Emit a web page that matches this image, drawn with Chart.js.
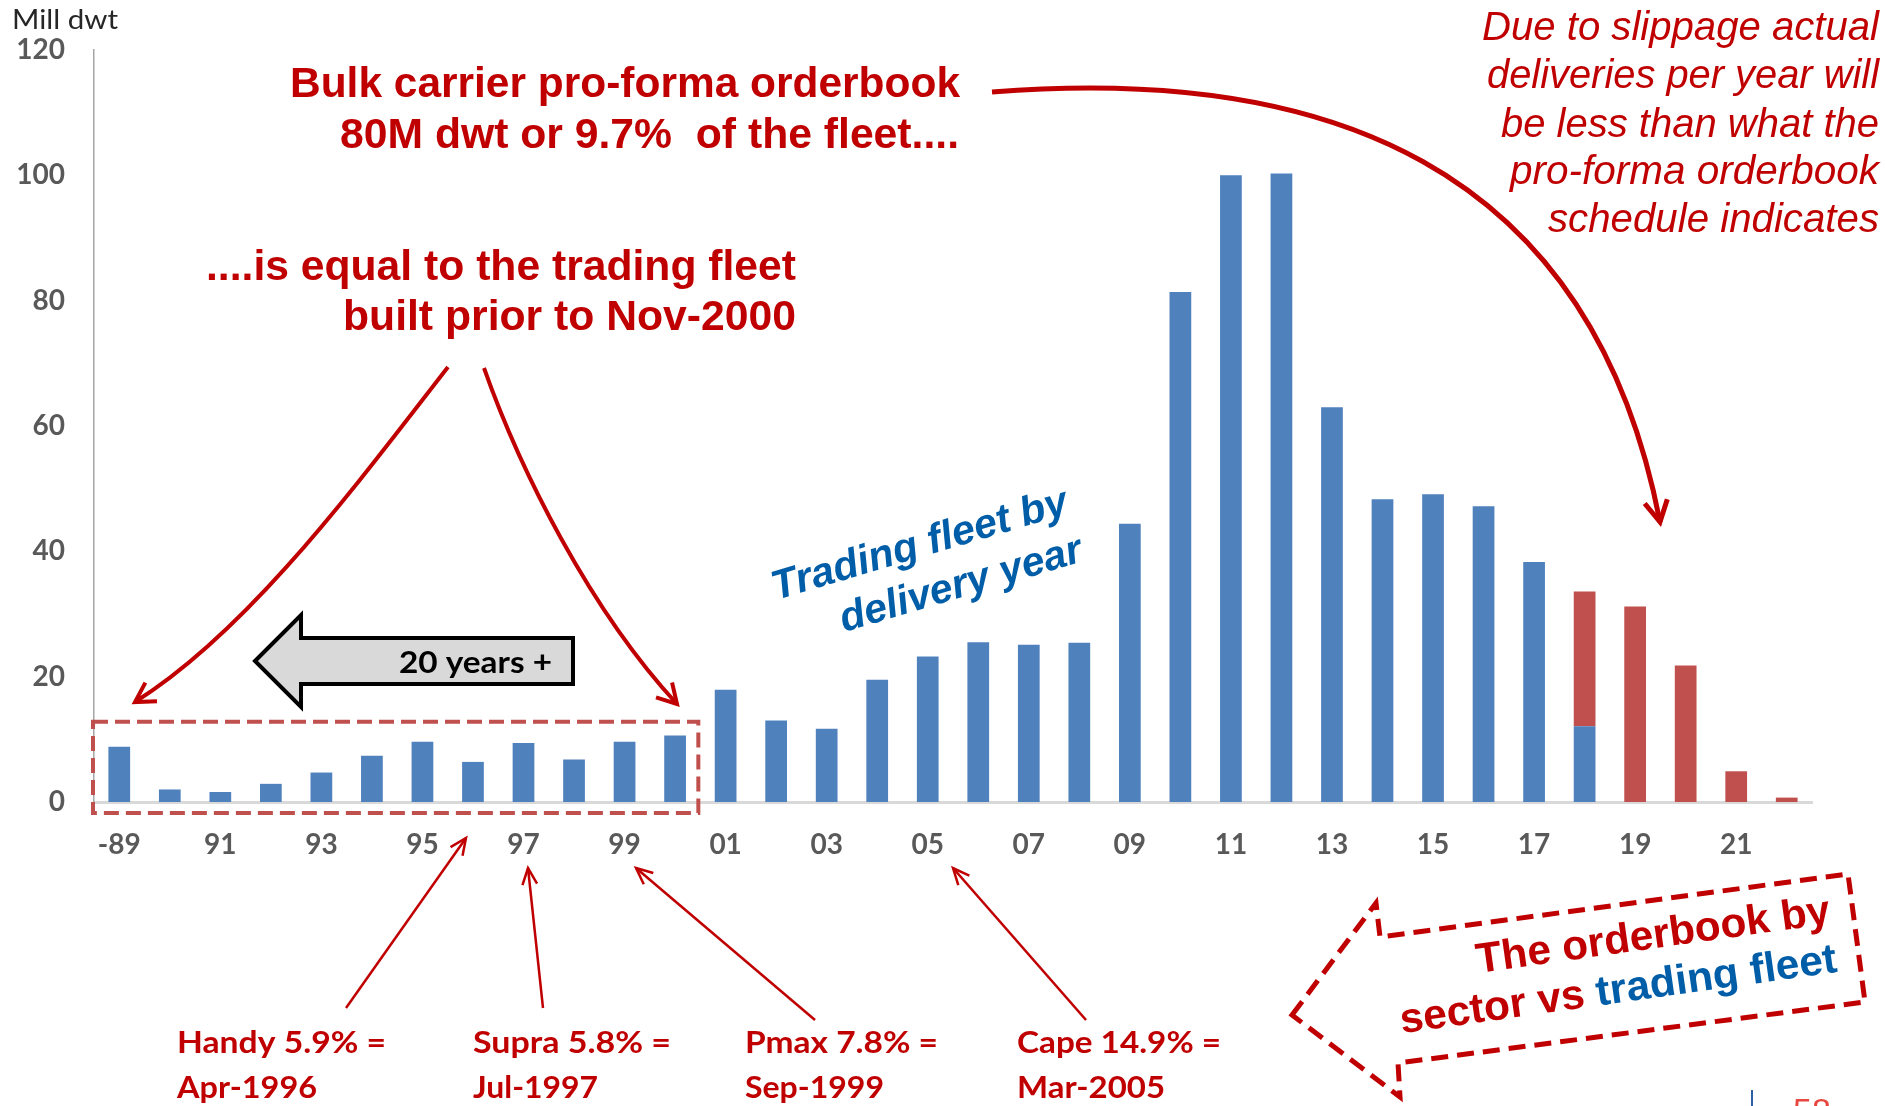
<!DOCTYPE html>
<html>
<head>
<meta charset="utf-8">
<script src="https://cdn.jsdelivr.net/npm/chart.js@4.4.1/dist/chart.umd.min.js"></script>
<style>
    body { margin: 0; background: #fff; }
    #wrap { width: 1885px; height: 1106px; }
</style>
</head>
<body>
<div id="wrap"><canvas id="fleetChart" width="1885" height="1106"></canvas></div>
<script>
// Delivery years (-89 = 1989 and earlier)
const years = ['-89', '90', '91', '92', '93', '94', '95', '96', '97', '98', '99', '00', '01', '02', '03', '04', '05',
    '06', '07', '08', '09', '10', '11', '12', '13', '14', '15', '16', '17', '18', '19', '20', '21', '22'];

// Mill dwt, trading fleet by delivery year
const tradingFleet = [8.8, 2.0, 1.6, 2.9, 4.7, 7.4, 9.6, 6.4, 9.4, 6.8, 9.6, 10.6, 17.9, 13.0, 11.7, 19.5, 23.2,
    25.5, 25.1, 25.4, 44.4, 81.4, 100.0, 100.3, 63.0, 48.3, 49.1, 47.2, 38.3, 12.1, null, null, null, null];

// Mill dwt, pro-forma orderbook
const orderbook = [null, null, null, null, null, null, null, null, null, null, null, null, null, null, null, null, null,
    null, null, null, null, null, null, null, null, null, null, null, null, 21.5, 31.2, 21.8, 4.9, 0.7];

const yMin = 0, yMax = 120, yStep = 20;

const RED = '#C00000';
const BLUE = '#005DA8';
const SANS = '"Liberation Sans", Arial, sans-serif';

// draw text squeezed/stretched to a given width
function fitText(ctx, text, x, y, width, align) {
    const w = ctx.measureText(text).width;
    ctx.save();
    ctx.translate(x, y);
    ctx.scale(width / w, 1);
    ctx.textAlign = align;
    ctx.fillText(text, 0, 0);
    ctx.restore();
}

function arrowHead(ctx, tipX, tipY, fromX, fromY, len, spread) {
    const a = Math.atan2(tipY - fromY, tipX - fromX);
    ctx.beginPath();
    ctx.moveTo(tipX - len * Math.cos(a - spread), tipY - len * Math.sin(a - spread));
    ctx.lineTo(tipX, tipY);
    ctx.lineTo(tipX - len * Math.cos(a + spread), tipY - len * Math.sin(a + spread));
    ctx.stroke();
}

function straightArrow(ctx, x0, y0, x1, y1) {
    ctx.beginPath();
    ctx.moveTo(x0, y0);
    ctx.lineTo(x1, y1);
    ctx.stroke();
    arrowHead(ctx, x1, y1, x0, y0, 18, 0.42);
}

const annotations = {
    id: 'annotations',
    afterDraw(chart) {
        const ctx = chart.ctx;
        const xs = chart.scales.x, ys = chart.scales.y;
        ctx.save();
        ctx.textBaseline = 'alphabetic';

        // axis title
        ctx.fillStyle = '#262626';
        ctx.font = '26px Lato, sans-serif';
        fitText(ctx, 'Mill dwt', 12, 29, 106, 'left');

        // dashed box round the fleet older than 20 years
        const step = xs.width / years.length;
        const boxL = xs.left - 1;
        const boxR = xs.getPixelForValue(11) + step * 0.46;
        const boxT = ys.getPixelForValue(12.8);
        const boxB = ys.getPixelForValue(0) + 11;
        ctx.strokeStyle = '#C0504D';
        ctx.lineWidth = 4;
        ctx.setLineDash([15, 7]);
        ctx.strokeRect(boxL, boxT, boxR - boxL, boxB - boxT);
        ctx.setLineDash([]);

        // headline texts
        ctx.fillStyle = RED;
        ctx.font = 'bold 42px ' + SANS;
        fitText(ctx, 'Bulk carrier pro-forma orderbook', 960, 97, 670, 'right');
        fitText(ctx, '80M dwt or 9.7%  of the fleet....', 959, 148, 619, 'right');
        fitText(ctx, '....is equal to the trading fleet', 796, 280, 590, 'right');
        fitText(ctx, 'built prior to Nov-2000', 796, 330, 453, 'right');

        ctx.font = 'italic 40px ' + SANS;
        const note = [
            ['Due to slippage actual', 40, 397],
            ['deliveries per year will', 88, 392],
            ['be less than what the', 137, 378],
            ['pro-forma orderbook', 184, 369],
            ['schedule indicates', 232, 331]
        ];
        note.forEach(([t, y, w]) => fitText(ctx, t, 1879, y, w, 'right'));

        // big curved arrow from the headline
        ctx.strokeStyle = RED;
        ctx.lineWidth = 5;
        ctx.beginPath();
        ctx.moveTo(992, 92);
        ctx.bezierCurveTo(1320, 66, 1590, 160, 1660, 522);
        ctx.stroke();
        arrowHead(ctx, 1660, 522, 1590, 160, 24, 0.5);

        // curved arrows to both ends of the box
        ctx.lineWidth = 4;
        ctx.beginPath();
        ctx.moveTo(448, 367);
        ctx.bezierCurveTo(360, 480, 250, 630, 135, 702);
        ctx.stroke();
        arrowHead(ctx, 135, 702, 250, 630, 22, 0.52);
        ctx.beginPath();
        ctx.moveTo(484, 368);
        ctx.bezierCurveTo(520, 470, 590, 610, 677, 704);
        ctx.stroke();
        arrowHead(ctx, 677, 704, 590, 610, 22, 0.52);

        // grey "20 years +" block arrow
        ctx.beginPath();
        ctx.moveTo(255, 661);
        ctx.lineTo(301, 615);
        ctx.lineTo(301, 638);
        ctx.lineTo(573, 638);
        ctx.lineTo(573, 684);
        ctx.lineTo(301, 684);
        ctx.lineTo(301, 707);
        ctx.closePath();
        ctx.fillStyle = '#D9D9D9';
        ctx.fill();
        ctx.strokeStyle = '#000';
        ctx.lineWidth = 4;
        ctx.stroke();
        ctx.fillStyle = '#000';
        ctx.font = 'bold 31px Lato, sans-serif';
        fitText(ctx, '20 years +', 552, 673, 153, 'right');

        // rotated blue label
        ctx.save();
        ctx.translate(776, 600);
        ctx.rotate(-16.5 * Math.PI / 180);
        ctx.fillStyle = BLUE;
        ctx.font = 'italic bold 41px ' + SANS;
        fitText(ctx, 'Trading fleet by', 307, 0, 307, 'right');
        fitText(ctx, 'delivery year', 307, 50, 251, 'right');
        ctx.restore();

        // sector arrows under the x axis
        ctx.strokeStyle = RED;
        ctx.lineWidth = 2.5;
        straightArrow(ctx, 346, 1008, 466, 838);
        straightArrow(ctx, 543, 1008, 528, 868);
        straightArrow(ctx, 815, 1020, 636, 868);
        straightArrow(ctx, 1086, 1020, 953, 868);

        ctx.fillStyle = RED;
        ctx.font = 'bold 30px Lato, sans-serif';
        const sectors = [
            ['Handy 5.9% =', 'Apr-1996', 177, 209, 140],
            ['Supra 5.8% =', 'Jul-1997', 473, 198, 125],
            ['Pmax 7.8% =', 'Sep-1999', 745, 193, 139],
            ['Cape 14.9% =', 'Mar-2005', 1017, 204, 148]
        ];
        sectors.forEach(([a, b, x, w1, w2]) => {
            fitText(ctx, a, x, 1053, w1, 'left');
            fitText(ctx, b, x, 1098, w2, 'left');
        });

        // dashed block arrow, bottom right
        ctx.strokeStyle = RED;
        ctx.lineWidth = 5;
        ctx.setLineDash([17, 9]);
        ctx.beginPath();
        ctx.moveTo(1292, 1015);
        ctx.lineTo(1376, 903);
        ctx.lineTo(1380, 937);
        ctx.lineTo(1848, 874);
        ctx.lineTo(1865, 1002);
        ctx.lineTo(1398, 1063);
        ctx.lineTo(1400, 1097);
        ctx.closePath();
        ctx.stroke();
        ctx.setLineDash([]);

        ctx.save();
        ctx.translate(1478, 973);
        ctx.rotate(-8 * Math.PI / 180);
        ctx.font = 'bold 42px ' + SANS;
        ctx.fillStyle = RED;
        fitText(ctx, 'The orderbook by', 357, 0, 357, 'right');
        const partA = 'sector vs ', partB = 'trading fleet';
        const wA = ctx.measureText(partA).width, wB = ctx.measureText(partB).width;
        ctx.translate(-84, 49);
        ctx.scale(441 / (wA + wB), 1);
        ctx.textAlign = 'left';
        ctx.fillText(partA, 0, 0);
        ctx.fillStyle = BLUE;
        ctx.fillText(partB, wA, 0);
        ctx.restore();

        // page number peeking in at the bottom
        ctx.strokeStyle = '#2E5FA3';
        ctx.lineWidth = 2;
        ctx.beginPath();
        ctx.moveTo(1752, 1090);
        ctx.lineTo(1752, 1106);
        ctx.stroke();
        ctx.fillStyle = '#E8473F';
        ctx.font = '34px ' + SANS;
        ctx.textBaseline = 'top';
        ctx.textAlign = 'left';
        ctx.fillText('58', 1793, 1096);

        ctx.restore();
    }
};

document.addEventListener('DOMContentLoaded', () => {
    Chart.defaults.font.family = 'Lato, sans-serif';
    Chart.defaults.color = '#595959';

    const ctx = document.getElementById('fleetChart').getContext('2d');
    new Chart(ctx, {
        type: 'bar',
        data: {
            labels: years,
            datasets: [{
                label: 'Trading fleet',
                data: tradingFleet,
                backgroundColor: '#4F81BD',
                categoryPercentage: 1,
                barPercentage: 0.43
            }, {
                label: 'Orderbook',
                data: orderbook,
                backgroundColor: '#C0504D',
                categoryPercentage: 1,
                barPercentage: 0.43
            }]
        },
        options: {
            responsive: false,
            animation: false,
            events: [],
            layout: { padding: { left: 0, right: 73, top: 50, bottom: 0 } },
            plugins: {
                legend: { display: false },
                tooltip: { enabled: false }
            },
            scales: {
                x: {
                    stacked: true,
                    grid: { display: false, drawTicks: false },
                    border: { display: true, color: '#D9D9D9', width: 3 },
                    ticks: {
                        autoSkip: false,
                        maxRotation: 0,
                        padding: 26,
                        font: { size: 28, weight: 'bold' },
                        callback: (v, i) => (i % 2 === 0 ? years[i] : '')
                    },
                    afterFit: scale => { scale.height = 304; }
                },
                y: {
                    stacked: true,
                    min: yMin,
                    max: yMax,
                    grid: { display: false, drawTicks: false },
                    border: { display: true, color: '#A6A6A6', width: 1.5 },
                    ticks: {
                        stepSize: yStep,
                        padding: 29,
                        font: { size: 28, weight: 'bold' }
                    },
                    afterFit: scale => { scale.width = 94; }
                }
            }
        },
        plugins: [annotations]
    });
});
</script>
</body>
</html>
